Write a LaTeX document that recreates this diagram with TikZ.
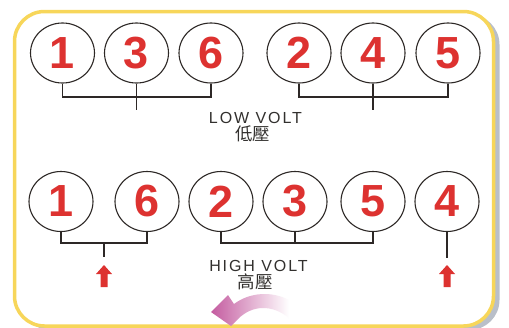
\documentclass[tikz,border=0pt]{standalone}
\usepackage{fontspec}
\setmainfont{Liberation Sans}
\newfontfamily\lab[LetterSpace=12]{Liberation Sans}
\newfontfamily\cjk{Noto Sans CJK TC}
\usetikzlibrary{shapes.geometric}
\definecolor{digred}{RGB}{221,50,48}
\definecolor{dark}{RGB}{45,40,38}
\definecolor{frameyellow}{RGB}{247,214,90}
\definecolor{shadowgrey}{RGB}{185,191,201}
\definecolor{arrowpink}{RGB}{196,92,160}
\definecolor{txt}{RGB}{50,48,46}
\tikzset{
  pin/.style={ellipse, draw=dark, line width=1.1pt, minimum width=64pt, minimum height=60pt, inner sep=0pt,
    text=digred, font=\bfseries\fontsize{45}{45}\selectfont},
  wire/.style={draw=dark, line width=1.2pt},
  redarrow/.style={fill=digred},
  label/.style={text=txt, inner sep=0pt, font=\lab\fontsize{16}{18}\selectfont},
  cjklabel/.style={text=txt, inner sep=0pt, font=\cjk\fontsize{17.5}{19}\selectfont}
}
\begin{document}
\begin{tikzpicture}[x=1pt,y=-1pt]
\useasboundingbox (0,0) rectangle (509,327);
% frame
\fill[shadowgrey, rounded corners=30pt] (20.5,14.5) rectangle (499.5,330);
\draw[frameyellow, fill=white, line width=3.5pt, rounded corners=30pt] (14.5,11.5) rectangle (493.5,326);
% top row
\node[pin] (t1) at (62.5,53) {1};
\node[pin] (t3) at (136.5,53) {3};
\node[pin] (t6) at (211,53) {6};
\node[pin] (t2) at (299,53) {2};
\node[pin] (t4) at (373,53) {4};
\node[pin] (t5) at (448,53) {5};
\draw[wire] (t1.south) -- (t1.south |- 0,97) -- (t6.south |- 0,97) -- (t6.south);
\draw[wire] (t3.south) -- (t3.south |- 0,110);
\draw[wire] (t2.south) -- (t2.south |- 0,97) -- (t5.south |- 0,97) -- (t5.south);
\draw[wire] (t4.south) -- (t4.south |- 0,110);
\node[label] (low) at (255.5,117.5) {LOW VOLT};
\node[cjklabel] (lowc) at (252.5,134) {低壓};
% bottom row
\node[pin] (b1) at (61,201.5) {1};
\node[pin] (b6) at (147,201.5) {6};
\node[pin] (b2) at (221,201.5) {2};
\node[pin] (b3) at (295,201.5) {3};
\node[pin] (b5) at (373,201.5) {5};
\node[pin] (b4) at (447,201.5) {4};
\draw[wire] (b1.south) -- (b1.south |- 0,243) -- (b6.south |- 0,243) -- (b6.south);
\coordinate (m16) at (104,243);
\draw[wire] (m16) -- ++(0,14);
\draw[wire] (b2.south) -- (b2.south |- 0,243) -- (b5.south |- 0,243) -- (b5.south);
\draw[wire] (b3.south) -- (b3.south |- 0,243);
\draw[wire] (b4.south) -- (b4.south |- 0,258);
\fill[redarrow] (104,265) -- (112,274) -- (107.5,274) -- (107.5,287) -- (100.5,287) -- (100.5,274) -- (96,274) -- cycle;
\fill[redarrow] (447,265) -- (455,274) -- (450.5,274) -- (450.5,287) -- (443.5,287) -- (443.5,274) -- (439,274) -- cycle;
\node[label] (high) at (258.5,265.5) {HIGH VOLT};
\node[cjklabel] (highc) at (255,282) {高壓};
% pink curved arrow
\shade[left color=arrowpink, right color=white]
  (211,312) -- (228,295) -- (234,304)
  .. controls (250,292) and (272,291) .. (289,300)
  -- (289,318)
  .. controls (272,304) and (252,305) .. (238,319)
  -- (231,326) -- cycle;
\end{tikzpicture}
\end{document}
